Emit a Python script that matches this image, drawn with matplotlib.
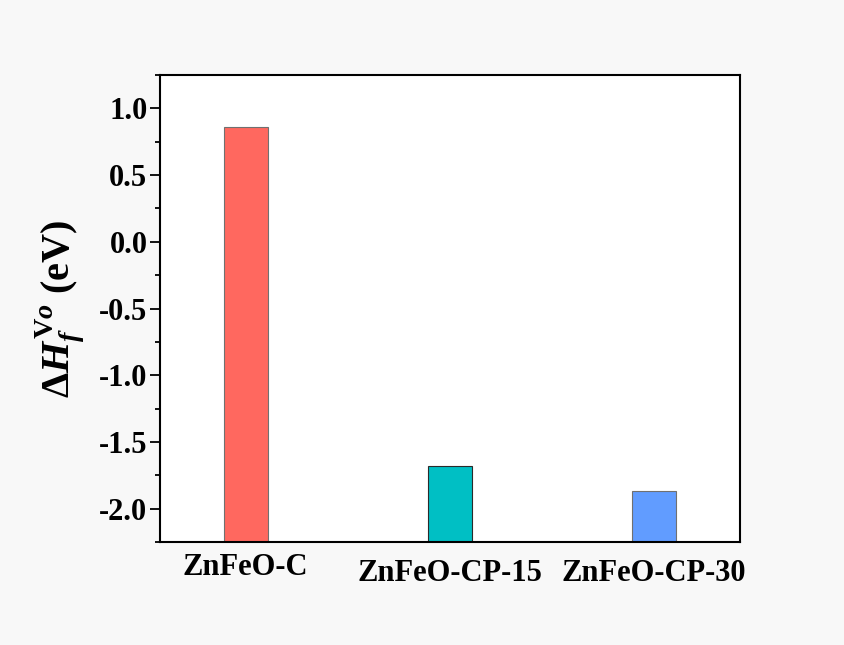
import numpy as np
import matplotlib
matplotlib.use("Agg")
import matplotlib.pyplot as plt
from matplotlib.ticker import MultipleLocator

plt.rcParams["font.family"] = "Liberation Serif"
plt.rcParams["font.weight"] = "bold"
plt.rcParams["mathtext.fontset"] = "custom"
plt.rcParams["mathtext.rm"] = "Liberation Serif:bold"
plt.rcParams["mathtext.bf"] = "Liberation Serif:bold"
plt.rcParams["mathtext.it"] = "Liberation Serif:italic:bold"

samples = ["ZnFeO-C", "ZnFeO-CP-15", "ZnFeO-CP-30"]
formation_energy = [0.86, -1.68, -1.87]
bar_colors = ["#FF685F", "#00BFC4", "#619CFF"]

ymin, ymax = -2.25, 1.25

fig = plt.figure(figsize=(8.45, 6.45), dpi=100)
fig.patch.set_facecolor("#f8f8f8")
ax = fig.add_axes([0.1893, 0.1597, 0.6864, 0.7240])

x = np.arange(1, len(samples) + 1)
vals = np.array(formation_energy)
# bars start at the bottom of the axis, Origin style
ax.bar(x, vals - ymin, bottom=ymin, width=0.215, color=bar_colors,
       edgecolor=["#707070", "#2a2a2a", "#707070"], linewidth=0.8)

ax.set_ylim(ymin, ymax)
ax.set_xlim(0.58, 3.42)
yt = np.arange(-2.0, 1.01, 0.5)
ax.set_yticks(yt)
ax.set_yticklabels(["%.1f" % v for v in yt])
ax.yaxis.set_minor_locator(MultipleLocator(0.25))

ax.set_xticks(x)
ax.set_xticklabels(samples)
ax.tick_params(axis="x", length=0, pad=12, labelsize=22)
ax.tick_params(axis="y", which="major", direction="out", length=7, width=1.3,
               pad=2, labelsize=22)
ax.tick_params(axis="y", which="minor", direction="out", length=3.5, width=1.3)
ax.xaxis.get_major_ticks()[0].set_pad(8)

for s in ax.spines.values():
    s.set_linewidth(1.5)

ax.set_ylabel(r"$\mathit{ΔH}_{\mathit{f}}^{\mathrm{V}\mathit{o}}$ (eV)",
              fontsize=29, fontweight="bold")
ax.yaxis.set_label_coords(-0.125, 0.5)

plt.savefig("out.png", dpi=100, facecolor=fig.get_facecolor())
